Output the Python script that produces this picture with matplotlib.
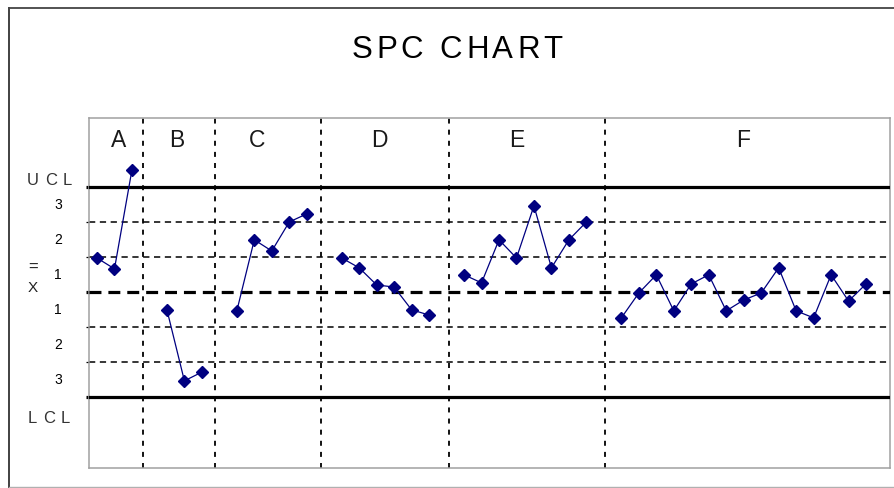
import numpy as np
import matplotlib
matplotlib.use("Agg")
from matplotlib import pyplot as plt
from matplotlib import transforms
from matplotlib.lines import Line2D

plt.rcParams['font.family'] = ['Liberation Sans', 'DejaVu Sans']
plt.rcParams['lines.scale_dashes'] = False

# data (in sigma units from the centre line)
groups = ["A", "B", "C", "D", "E", "F"]
vals_A = [0.97, 0.66, 3.49]
vals_B = [-0.51, -2.54, -2.29]
vals_C = [-0.54, 1.49, 1.17, 2.0, 2.23]
vals_D = [0.97, 0.69, 0.2, 0.14, -0.51, -0.66]
vals_E = [0.49, 0.26, 1.49, 0.97, 2.46, 0.69, 1.49, 2.0]
vals_F = [-0.74, -0.03, 0.49, -0.54, 0.23, 0.49, -0.54, -0.23, -0.03, 0.69,
          -0.54, -0.74, 0.49, -0.26, 0.23]
group_vals = [vals_A, vals_B, vals_C, vals_D, vals_E, vals_F]
group_start = [0, 4, 8, 14, 21, 30]   # first sample slot of each group
dividers = [2.63, 6.75, 12.81, 20.14, 29.06]
label_x = [1.26, 4.58, 9.15, 16.13, 24.03, 36.96]

UCL, LCL, CL = 3, -3, 0
sigma_lines = [2, 1, -1, -2]
zone_labels = ["3", "2", "1", "1", "2", "3"]
zone_mid = [2.5, 1.5, 0.5, -0.5, -1.5, -2.5]

W, H = 895, 489
fig = plt.figure(figsize=(W/100, H/100), dpi=100)
ax = fig.add_axes([89/W, (H-469)/H, (890-89)/W, (469-119)/H])

navy = "#000080"
for vals, s in zip(group_vals, group_start):
    xs = np.arange(s, s + len(vals))
    ax.plot(xs, vals, color=navy, lw=0.9, marker="D", ms=5.8,
            mfc=navy, mec=navy, zorder=5)

for v in sigma_lines:
    ax.axhline(v, color="black", lw=1.1, ls=(0, (4.5, 3.3)), zorder=2)
ax.axhline(CL, color="black", lw=2.3, ls=(0, (8.6, 5.0)), zorder=3)
ax.axhline(UCL, color="black", lw=2.3, zorder=3)
ax.axhline(LCL, color="black", lw=2.3, zorder=3)
for d in dividers:
    ax.axvline(d, color="black", lw=1.3, ls=(0, (3.6, 4.4)), zorder=2)

for g, lx in zip(groups, label_x):
    ax.text(lx, 4.97 - (147-119)/35, g, ha="center", va="baseline",
            fontsize=16.5, color="#1a1a1a")

ax.set_xlim(-0.458, 45.37)
ax.set_ylim(-5.03, 4.97)
ax.set_xticks([])
ax.set_yticks([-3, -2, -1, 0, 1, 2, 3])
ax.set_yticklabels([])
ax.tick_params(axis="y", direction="out", length=2.5, width=0.9, color="black")
for t, lv in zip(ax.yaxis.get_major_ticks(), [-3, -2, -1, 0, 1, 2, 3]):
    if lv in (UCL, LCL, CL):
        t.tick1line.set_markeredgewidth(2.3)
for sp in ax.spines.values():
    sp.set_color("#a0a0a0")
    sp.set_linewidth(1.1)

# left margin labels
trans = transforms.blended_transform_factory(fig.transFigure, ax.transData)
for lab, m in zip(zone_labels, zone_mid):
    ax.text(58/W, m - 0.1, lab, transform=trans, ha="center", va="baseline",
            fontsize=10, color="black")

fig.canvas.draw()
renderer = fig.canvas.get_renderer()


def spaced(cx, y, s, size, total, color, transform):
    ws = []
    for ch in s:
        if ch == " ":
            ws.append(None)
        else:
            t = fig.text(0, 0, ch, fontsize=size)
            ws.append(t.get_window_extent(renderer).width)
            t.remove()
    sp = size*100/72*0.28
    ws = [sp if w is None else w for w in ws]
    gap = (total - sum(ws)) / (len(s) - 1)
    x = cx - total/2
    for ch, w in zip(s, ws):
        if ch != " ":
            fig.text((x + w/2)/W, y, ch, fontsize=size, ha="center",
                     va="baseline", color=color, transform=transform)
        x += w + gap


spaced(457, 1 - 58/H, "SPC CHART", 22.5, 211, "black", fig.transFigure)
spaced(49.5, UCL + (188-185)/35, "UCL", 12, 45, "#333333", trans)
spaced(49, LCL - (423-398)/35, "LCL", 12, 42, "#333333", trans)
ax.text(33/W, CL + (293-272)/35, "=", transform=trans, ha="center",
        va="baseline", fontsize=12, color="#222222")
ax.text(33/W, CL + (293-292)/35, "X", transform=trans, ha="center",
        va="baseline", fontsize=11, color="#222222")

# outer frame
fig.add_artist(Line2D([9/W, 9/W], [1 - 9/H, 0], transform=fig.transFigure,
                      color="#333333", lw=1.3))
fig.add_artist(Line2D([9/W, 1], [1 - 9/H, 1 - 9/H], transform=fig.transFigure,
                      color="#444444", lw=1.3))
fig.add_artist(Line2D([9/W, 1], [1 - 488/H, 1 - 488/H], transform=fig.transFigure,
                      color="#b0b0b0", lw=1.0))

fig.savefig("out.png", dpi=100)
